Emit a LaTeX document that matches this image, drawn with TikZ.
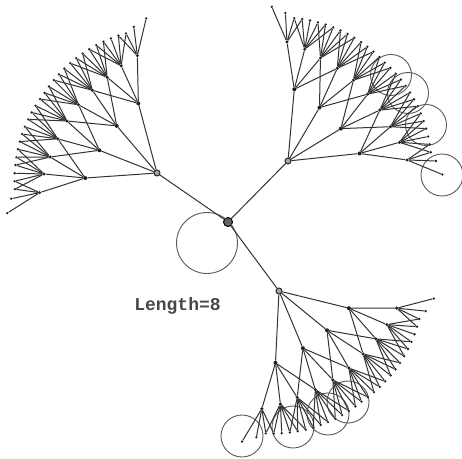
\documentclass[tikz,border=0pt]{standalone}
\usepackage{fontspec}
\setmonofont{Liberation Mono}
\tikzset{
  edge/.style={draw=black!80,line width=1pt},
  dotn/.style={circle,fill=black!88,inner sep=0pt,minimum size=#1},
  ringn/.style={circle,draw=black!85,fill=black!35,line width=1pt,inner sep=0pt,minimum size=#1},
  loopc/.style={circle,draw=black!65,line width=0.9pt,inner sep=0pt,minimum size=#1},
  lab/.style={font=\ttfamily\bfseries\fontsize{18}{18}\selectfont,text=black!72,inner sep=0pt}
}
\begin{document}
\begin{tikzpicture}[x=1pt,y=1pt]
\useasboundingbox (0,0) rectangle (462,458);
\node[ringn=9pt,draw=black,fill=black!60] (c) at (228,236) {};
\node[loopc=61pt] (l0) at (207,215) {};
\node[loopc=42pt] (l1) at (442,283) {};
\node[loopc=41pt] (l2) at (426,333) {};
\node[loopc=41pt] (l3) at (408,365) {};
\node[loopc=41pt] (l4) at (391,383) {};
\node[loopc=42pt] (l5) at (242,22) {};
\node[loopc=42pt] (l6) at (293,31) {};
\node[loopc=42pt] (l7) at (328,44) {};
\node[loopc=42pt] (l8) at (348,56) {};
\node[lab] (t) at (177.5,152) {Length=8};
\foreach \bx/\by/\ph/\b in {157/285/144.5/A,288/297/45.5/B,279/167/-53.3/C}{
  \node[ringn=6pt] (r\b) at (\bx,\by) {};
  \draw[edge] (c) -- (r\b);
  % first level
  \foreach \rel/\len [count=\i from 0] in {39.5/72,14/62,-14/62,-39.5/72}{
    \pgfmathsetmacro\ang{\ph+\rel}
    \path (r\b) ++(\ang:\len pt) node[dotn=4pt] (r\b-a\i) {};
    \draw[edge] (r\b) -- (r\b-a\i);
  }
  % second level: neighbouring fans share two nodes
  \foreach \rel/\len [count=\m from 0] in {45/119,36/113,27/108,16.5/105,5.5/104,-5.5/104,-16.5/105,-27/108,-36/113,-45/119}{
    \pgfmathsetmacro\ang{\ph+\rel}
    \path (r\b) ++(\ang:\len pt) node[dotn=3.4pt] (r\b-m\m) {};
  }
  % third level
  \foreach \rel [count=\t from 0] in {50.5,45.5,42,38.8,35.6,32.3,29.1,25.8,22.6,19.4,16.2,12.9,9.7,6.5,3.2,0,-3.2,-6.5,-9.7,-12.9,-16.2,-19.4,-22.6,-25.8,-29.1,-32.3,-35.6,-38.8,-42,-45.5,-50.5}{
    \pgfmathsetmacro\ang{\ph+\rel}
    \pgfmathsetmacro\len{abs(\rel)>47?155:(abs(\rel)>43?148:138+5*abs(\rel)/42)}
    \path (r\b) ++(\ang:\len pt) node[dotn=2.6pt] (r\b-t\t) {};
  }
  \foreach \i in {0,...,3}{
    \foreach \j in {0,...,3}{
      \pgfmathtruncatemacro\m{2*\i+\j}
      \draw[edge] (r\b-a\i) -- (r\b-m\m);
    }
  }
  \foreach \m in {0,...,9}{
    \foreach \k in {0,...,3}{
      \pgfmathtruncatemacro\t{3*\m+\k}
      \draw[edge] (r\b-m\m) -- (r\b-t\t);
    }
  }
  % overlapping fans in the inner part of the arc
  \foreach \m in {1,...,8}{
    \pgfmathtruncatemacro\tlo{3*\m-1}
    \pgfmathtruncatemacro\thi{3*\m+4}
    \draw[edge] (r\b-m\m) -- (r\b-t\tlo);
    \draw[edge] (r\b-m\m) -- (r\b-t\thi);
  }
}
\end{tikzpicture}
\end{document}
